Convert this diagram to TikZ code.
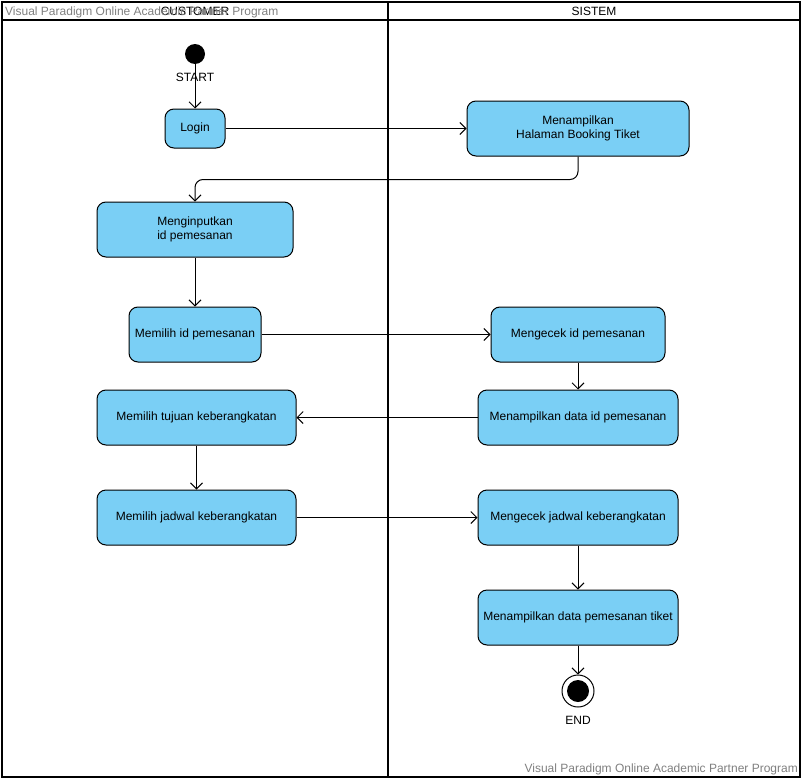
\documentclass[tikz,border=0pt]{standalone}
\usepackage{fontspec}
\setmainfont{Liberation Sans}
\usetikzlibrary{arrows.meta}
\definecolor{act}{HTML}{7ACFF5}
\begin{document}
\begin{tikzpicture}[x=1pt,y=-1pt,
  act/.style={draw=black,fill=act,rounded corners=9pt,line width=1pt,align=center,font=\fontsize{12}{14}\selectfont,inner sep=0pt},
  arr/.style={draw=black,line width=1pt,-{Straight Barb[length=6pt,width=12pt]}},
  lane/.style={draw=black,line width=1.5pt},
  wm/.style={text=gray,font=\fontsize{12}{14}\selectfont,inner sep=0pt}]
\useasboundingbox (0,0) rectangle (803,779);
\draw[lane] (2,2) rectangle (800,777);
\draw[lane] (2,20) -- (800,20);
\draw[lane] (388,2) -- (388,777);
\node[font=\fontsize{12}{14}\selectfont] (h1) at (195,11) {CUSTOMER};
\node[font=\fontsize{12}{14}\selectfont] (h2) at (594,11) {SISTEM};
\node[wm,anchor=west] (w1) at (5,12) {Visual Paradigm Online Academic Partner Program};
\node[wm,anchor=east] (w2) at (798,769) {Visual Paradigm Online Academic Partner Program};
\node[circle,fill=black,minimum size=20pt,inner sep=0pt] (start) at (195,54) {};
\node[font=\fontsize{12}{14}\selectfont] (startl) at (195,77) {START};
\node[act,minimum width=60pt,minimum height=39pt] (login) at (195,128.5) {Login};
\node[act,minimum width=222pt,minimum height=55pt] (hal) at (578,128.5) {Menampilkan\\Halaman Booking Tiket};
\node[act,minimum width=196pt,minimum height=55pt] (inp) at (195,229.5) {Menginputkan\\id pemesanan};
\node[act,minimum width=132pt,minimum height=55pt] (mid) at (195,334.5) {Memilih id pemesanan};
\node[act,minimum width=174pt,minimum height=55pt] (cek) at (578,334.5) {Mengecek id pemesanan};
\node[act,minimum width=200pt,minimum height=55pt] (tid) at (578,417.5) {Menampilkan data id pemesanan};
\node[act,minimum width=199pt,minimum height=55pt] (tuj) at (196.5,417.5) {Memilih tujuan keberangkatan};
\node[act,minimum width=199pt,minimum height=55pt] (jad) at (196.5,517.5) {Memilih jadwal keberangkatan};
\node[act,minimum width=200pt,minimum height=55pt] (cj) at (578,517.5) {Mengecek jadwal keberangkatan};
\node[act,minimum width=200pt,minimum height=55pt] (tpt) at (578,617.5) {Menampilkan data pemesanan tiket};
\node[circle,draw=black,line width=1pt,minimum size=32pt,inner sep=0pt] (end) at (578,691) {};
\node[circle,fill=black,minimum size=22pt,inner sep=0pt] (endi) at (578,691) {};
\node[font=\fontsize{12}{14}\selectfont] (endl) at (578,720) {END};
\draw[arr] (start) -- (login);
\draw[arr] (login) -- (hal);
\draw[arr,rounded corners=8pt] (hal.south) -- ++(0,23) -| (inp.north);
\draw[arr] (inp) -- (mid);
\draw[arr] (mid) -- (cek);
\draw[arr] (cek) -- (tid);
\draw[arr] (tid) -- (tuj);
\draw[arr] (tuj) -- (jad);
\draw[arr] (jad) -- (cj);
\draw[arr] (cj) -- (tpt);
\draw[arr] (tpt) -- (end);
\end{tikzpicture}
\end{document}
